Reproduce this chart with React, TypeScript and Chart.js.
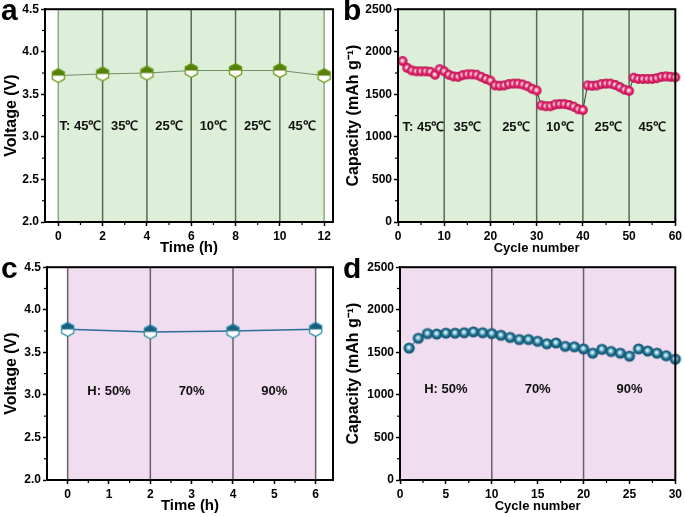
import React, { useEffect, useRef } from 'react';
import { Chart, registerables } from 'chart.js';

Chart.register(...registerables);

const FONT = "'Liberation Sans', Arial, Helvetica, sans-serif";

// ---------- Panel a : voltage vs time at different temperatures ----------
const aTime = [0, 2, 4, 6, 8, 10, 12];
const aVoltage = [3.72, 3.74, 3.75, 3.78, 3.78, 3.78, 3.72];
const aXTicks = [0, 2, 4, 6, 8, 10, 12];
const aYTicks = [2.0, 2.5, 3.0, 3.5, 4.0, 4.5];
const aDividers = [0, 2, 4, 6, 8, 10, 12];
const aLabels = ['T: 45℃', '35℃', '25℃', '10℃', '25℃', '45℃'];
const aLabelX = [1, 3, 5, 7, 9, 11];

// ---------- Panel b : capacity vs cycle at different temperatures ----------
const bCycle = [
  1, 2, 3, 4, 5, 6, 7, 8, 9, 10,
  11, 12, 13, 14, 15, 16, 17, 18, 19, 20,
  21, 22, 23, 24, 25, 26, 27, 28, 29, 30,
  31, 32, 33, 34, 35, 36, 37, 38, 39, 40,
  41, 42, 43, 44, 45, 46, 47, 48, 49, 50,
  51, 52, 53, 54, 55, 56, 57, 58, 59, 60,
];
const bCapacity = [
  1890, 1810, 1780, 1770, 1770, 1770, 1765, 1730, 1795, 1770,
  1730, 1710, 1705, 1725, 1735, 1735, 1730, 1705, 1680, 1660,
  1605, 1600, 1605, 1620, 1625, 1625, 1615, 1595, 1565, 1545,
  1370, 1360, 1360, 1380, 1385, 1385, 1375, 1355, 1325, 1315,
  1605, 1600, 1605, 1620, 1625, 1625, 1610, 1585, 1555, 1540,
  1695, 1680, 1680, 1680, 1680, 1690, 1705, 1710, 1705, 1700,
];
const bXTicks = [0, 10, 20, 30, 40, 50, 60];
const bYTicks = [0, 500, 1000, 1500, 2000, 2500];
const bDividers = [10, 20, 30, 40, 50];
const bLabels = ['T: 45℃', '35℃', '25℃', '10℃', '25℃', '45℃'];
const bLabelX = [5.5, 15, 25.5, 35, 45.5, 55];

// ---------- Panel c : voltage vs time at different humidity ----------
const cTime = [0, 2, 4, 6];
const cVoltage = [3.77, 3.74, 3.75, 3.77];
const cXTicks = [0, 1, 2, 3, 4, 5, 6];
const cYTicks = [2.0, 2.5, 3.0, 3.5, 4.0, 4.5];
const cDividers = [0, 2, 4, 6];
const cLabels = ['H: 50%', '70%', '90%'];
const cLabelX = [1, 3, 5];

// ---------- Panel d : capacity vs cycle at different humidity ----------
const dCycle = [
  1, 2, 3, 4, 5, 6, 7, 8, 9, 10,
  11, 12, 13, 14, 15, 16, 17, 18, 19, 20,
  21, 22, 23, 24, 25, 26, 27, 28, 29, 30,
];
const dCapacity = [
  1550, 1665, 1720, 1715, 1725, 1725, 1730, 1740, 1730, 1720,
  1700, 1675, 1650, 1650, 1630, 1600, 1610, 1570, 1565, 1540,
  1490, 1535, 1510, 1490, 1455, 1540, 1515, 1490, 1460, 1420,
];
const dXTicks = [0, 5, 10, 15, 20, 25, 30];
const dYTicks = [0, 500, 1000, 1500, 2000, 2500];
const dDividers = [10, 20];
const dLabels = ['H: 50%', '70%', '90%'];
const dLabelX = [5, 15, 25];

const GREEN_BG = '#DDEFD9';
const PINK_BG = '#F1DDF0';

type Spec = {
  letter: string;
  left: number;
  top: number;
  width: number;
  height: number;
  yAxisWidth: number;
  padRight: number;
  xMin: number;
  xMax: number;
  yMin: number;
  yMax: number;
  xTicks: number[];
  yTicks: number[];
  yDecimals: number;
  xTitle: string;
  yTitle: string;
  xTitleSize: number;
  yTitleSize: number;
  xTitlePad: number;
  xs: number[];
  ys: number[];
  bandFrom?: number;
  bandTo?: number;
  bandColor: string;
  dividers: number[];
  dividerColor: string;
  edgeColor?: string;
  labels: string[];
  labelX: number[];
  labelY: number;
  marker: () => HTMLCanvasElement;
  showLine: boolean;
  lineColor: string;
  lineWidth: number;
};

function sphere(r: number, light: string, base: string, dark: string) {
  const size = Math.ceil(2 * r + 2);
  const c = document.createElement('canvas');
  c.width = size;
  c.height = size;
  const g = c.getContext('2d')!;
  const cx = size / 2;
  const cy = size / 2;
  const grad = g.createRadialGradient(cx - r * 0.1, cy - r * 0.15, 0, cx, cy, r);
  grad.addColorStop(0, '#ffffff');
  grad.addColorStop(0.28, light);
  grad.addColorStop(0.62, base);
  grad.addColorStop(1, dark);
  g.fillStyle = grad;
  g.beginPath();
  g.arc(cx, cy, r, 0, Math.PI * 2);
  g.fill();
  return c;
}

function hexMarker(r: number, fill: string, stroke: string) {
  const size = Math.ceil(2 * r + 3);
  const c = document.createElement('canvas');
  c.width = size;
  c.height = size;
  const g = c.getContext('2d')!;
  const cx = size / 2;
  const cy = size / 2;
  const path = () => {
    g.beginPath();
    [-90, -30, 30, 90, 150, 210].forEach((a, i) => {
      const px = cx + r * Math.cos((a * Math.PI) / 180);
      const py = cy + r * Math.sin((a * Math.PI) / 180);
      if (i === 0) g.moveTo(px, py);
      else g.lineTo(px, py);
    });
    g.closePath();
  };
  path();
  g.fillStyle = '#ffffff';
  g.fill();
  g.save();
  g.beginPath();
  g.rect(0, 0, size, cy);
  g.clip();
  path();
  g.fillStyle = fill;
  g.fill();
  g.restore();
  path();
  g.strokeStyle = stroke;
  g.lineWidth = 1.3;
  g.stroke();
  return c;
}

function decoPlugin(s: Spec) {
  return {
    id: 'deco',
    beforeDatasetsDraw(chart: any) {
      const { ctx, chartArea: ca, scales } = chart;
      const xs = scales.x;
      const ys = scales.y;
      ctx.save();
      const x0 = s.bandFrom === undefined ? ca.left : xs.getPixelForValue(s.bandFrom);
      const x1 = s.bandTo === undefined ? ca.right : xs.getPixelForValue(s.bandTo);
      ctx.fillStyle = s.bandColor;
      ctx.fillRect(x0, ca.top, x1 - x0, ca.bottom - ca.top);
      ctx.lineWidth = 1.5;
      s.dividers.forEach((d, i) => {
        const px = xs.getPixelForValue(d);
        const edge = i === 0 || i === s.dividers.length - 1;
        ctx.strokeStyle = edge && s.edgeColor ? s.edgeColor : s.dividerColor;
        ctx.beginPath();
        ctx.moveTo(px, ca.top);
        ctx.lineTo(px, ca.bottom);
        ctx.stroke();
      });
      ctx.fillStyle = '#111';
      ctx.font = `bold 13px ${FONT}`;
      ctx.textAlign = 'center';
      ctx.textBaseline = 'middle';
      s.labels.forEach((t, i) => {
        ctx.fillText(t, xs.getPixelForValue(s.labelX[i]), ys.getPixelForValue(s.labelY));
      });
      ctx.restore();
    },
    afterDraw(chart: any) {
      const { ctx, chartArea: ca, scales } = chart;
      const xs = scales.x;
      const ys = scales.y;
      ctx.save();
      ctx.strokeStyle = '#000';
      ctx.lineWidth = 2;
      ctx.strokeRect(ca.left, ca.top, ca.right - ca.left, ca.bottom - ca.top);
      ctx.lineWidth = 1.2;
      for (let i = 0; i < s.xTicks.length - 1; i++) {
        const m = (s.xTicks[i] + s.xTicks[i + 1]) / 2;
        const px = xs.getPixelForValue(m);
        ctx.beginPath();
        ctx.moveTo(px, ca.bottom);
        ctx.lineTo(px, ca.bottom + 3);
        ctx.stroke();
      }
      for (let i = 0; i < s.yTicks.length - 1; i++) {
        const m = (s.yTicks[i] + s.yTicks[i + 1]) / 2;
        const py = ys.getPixelForValue(m);
        ctx.beginPath();
        ctx.moveTo(ca.left, py);
        ctx.lineTo(ca.left - 3, py);
        ctx.stroke();
      }
      ctx.fillStyle = '#000';
      ctx.font = `bold 30px ${FONT}`;
      ctx.textAlign = 'left';
      ctx.textBaseline = 'alphabetic';
      ctx.fillText(s.letter, 1, 20);
      ctx.restore();
    },
  };
}

function Panel({ build }: { build: () => Spec }) {
  const ref = useRef<HTMLCanvasElement>(null);
  const specRef = useRef<Spec | null>(null);
  if (!specRef.current) specRef.current = build();
  const s = specRef.current;

  useEffect(() => {
    if (!ref.current) return;
    const tickFont = { family: FONT, size: 12, weight: 'bold' as const };
    const chart = new Chart(ref.current, {
      type: 'line',
      data: {
        datasets: [
          {
            data: s.xs.map((x, i) => ({ x, y: s.ys[i] })),
            showLine: s.showLine,
            borderColor: s.lineColor,
            borderWidth: s.lineWidth,
            pointStyle: s.marker() as any,
            pointRadius: 5,
            tension: 0,
            clip: false as any,
          },
        ],
      },
      options: {
        animation: false,
        responsive: false,
        maintainAspectRatio: false,
        devicePixelRatio: 1,
        events: [],
        layout: { padding: { left: 0, right: s.padRight, top: 9, bottom: 0 } },
        plugins: { legend: { display: false }, tooltip: { enabled: false } },
        scales: {
          x: {
            type: 'linear',
            min: s.xMin,
            max: s.xMax,
            afterBuildTicks: (sc: any) => {
              sc.ticks = s.xTicks.map((v) => ({ value: v }));
            },
            afterFit: (sc: any) => {
              sc.height = s.height - 9 - 213;
            },
            grid: {
              drawOnChartArea: false,
              drawTicks: true,
              tickLength: 4,
              tickColor: '#000',
              tickWidth: 1.5,
            },
            border: { display: true, color: '#000', width: 2 },
            ticks: {
              font: tickFont,
              color: '#000',
              padding: 3,
              maxRotation: 0,
              autoSkip: false,
              callback: (v: any) => String(v),
            },
            title: {
              display: true,
              text: s.xTitle,
              color: '#000',
              font: { family: FONT, size: s.xTitleSize, weight: 'bold' },
              padding: { top: 0, bottom: s.xTitlePad },
            },
          },
          y: {
            type: 'linear',
            min: s.yMin,
            max: s.yMax,
            afterBuildTicks: (sc: any) => {
              sc.ticks = s.yTicks.map((v) => ({ value: v }));
            },
            afterFit: (sc: any) => {
              sc.width = s.yAxisWidth;
            },
            grid: {
              drawOnChartArea: false,
              drawTicks: true,
              tickLength: 4,
              tickColor: '#000',
              tickWidth: 1.5,
            },
            border: { display: true, color: '#000', width: 2 },
            ticks: {
              font: tickFont,
              color: '#000',
              padding: 2,
              autoSkip: false,
              callback: (v: any) => Number(v).toFixed(s.yDecimals),
            },
            title: {
              display: true,
              text: s.yTitle,
              color: '#000',
              font: { family: FONT, size: s.yTitleSize, weight: 'bold' },
              padding: { top: 2, bottom: 0 },
            },
          },
        },
      } as any,
      plugins: [decoPlugin(s)],
    });
    return () => chart.destroy();
  }, []);

  return (
    <canvas
      ref={ref}
      width={s.width}
      height={s.height}
      style={{ position: 'absolute', left: s.left, top: s.top, width: s.width, height: s.height }}
    />
  );
}

const buildA = (): Spec => ({
  letter: 'a',
  left: 0, top: 0, width: 342, height: 258,
  yAxisWidth: 45, padRight: 9,
  xMin: -0.6, xMax: 12.4, yMin: 2.0, yMax: 4.5,
  xTicks: aXTicks, yTicks: aYTicks, yDecimals: 1,
  xTitle: 'Time (h)', yTitle: 'Voltage (V)', xTitleSize: 15, yTitleSize: 16, xTitlePad: 1,
  xs: aTime, ys: aVoltage,
  bandFrom: 0, bandTo: 12, bandColor: GREEN_BG,
  dividers: aDividers, dividerColor: '#566C56', edgeColor: '#8DAA88',
  labels: aLabels, labelX: aLabelX, labelY: 3.12,
  marker: () => hexMarker(7, '#55800A', '#6E9B1A'),
  showLine: true, lineColor: '#6F8F64', lineWidth: 1,
});

const buildB = (): Spec => ({
  letter: 'b',
  left: 342, top: 0, width: 343, height: 258,
  yAxisWidth: 56, padRight: 8,
  xMin: 0, xMax: 60, yMin: 0, yMax: 2500,
  xTicks: bXTicks, yTicks: bYTicks, yDecimals: 0,
  xTitle: 'Cycle number', yTitle: 'Capacity (mAh g⁻¹)', xTitleSize: 13, yTitleSize: 16, xTitlePad: 2,
  xs: bCycle, ys: bCapacity,
  bandColor: GREEN_BG,
  dividers: bDividers, dividerColor: '#566C56',
  labels: bLabels, labelX: bLabelX, labelY: 1115,
  marker: () => sphere(4.9, '#F7B3CB', '#E3226B', '#B80F4E'),
  showLine: true, lineColor: '#333333', lineWidth: 1,
});

const buildC = (): Spec => ({
  letter: 'c',
  left: 0, top: 258, width: 342, height: 259,
  yAxisWidth: 47, padRight: 9,
  xMin: -0.5, xMax: 6.42, yMin: 2.0, yMax: 4.5,
  xTicks: cXTicks, yTicks: cYTicks, yDecimals: 1,
  xTitle: 'Time (h)', yTitle: 'Voltage (V)', xTitleSize: 15, yTitleSize: 16, xTitlePad: 2,
  xs: cTime, ys: cVoltage,
  bandFrom: 0, bandTo: 6, bandColor: PINK_BG,
  dividers: cDividers, dividerColor: '#6B5C6B',
  labels: cLabels, labelX: cLabelX, labelY: 3.04,
  marker: () => hexMarker(7, '#17607F', '#2B8EA6'),
  showLine: true, lineColor: '#2B6E99', lineWidth: 1.5,
});

const buildD = (): Spec => ({
  letter: 'd',
  left: 342, top: 258, width: 343, height: 259,
  yAxisWidth: 58, padRight: 8,
  xMin: 0, xMax: 30, yMin: 0, yMax: 2500,
  xTicks: dXTicks, yTicks: dYTicks, yDecimals: 0,
  xTitle: 'Cycle number', yTitle: 'Capacity (mAh g⁻¹)', xTitleSize: 13, yTitleSize: 16, xTitlePad: 3,
  xs: dCycle, ys: dCapacity,
  bandColor: PINK_BG,
  dividers: dDividers, dividerColor: '#6B5C6B',
  labels: dLabels, labelX: dLabelX, labelY: 1060,
  marker: () => sphere(5.6, '#9ED0E0', '#1C6F90', '#0E4C66'),
  showLine: true, lineColor: '#1C6F90', lineWidth: 1,
});

export default function App() {
  return (
    <div
      style={{
        position: 'absolute',
        left: 0,
        top: 0,
        width: 685,
        height: 517,
        background: '#ffffff',
        overflow: 'hidden',
      }}
    >
      <Panel build={buildA} />
      <Panel build={buildB} />
      <Panel build={buildC} />
      <Panel build={buildD} />
    </div>
  );
}
